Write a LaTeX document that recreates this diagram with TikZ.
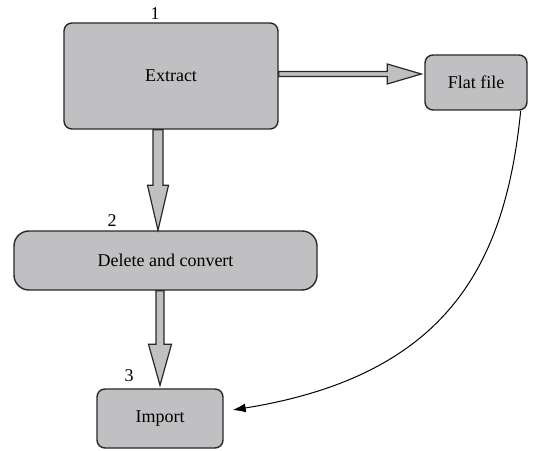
\documentclass[tikz,border=0pt]{standalone}
\usepackage{fontspec}
\setmainfont{Liberation Serif}
\usetikzlibrary{calc,arrows.meta}
\definecolor{boxgray}{RGB}{192,192,194}
\definecolor{edge}{RGB}{40,40,40}
\begin{document}
\begin{tikzpicture}[x=1pt,y=1pt,
  box/.style={draw=edge,line width=1.4pt,fill=boxgray,rounded corners=8pt,inner sep=0pt,
    font=\fontsize{18}{20}\selectfont},
  fat/.style={draw=edge,line width=1.2pt,fill=boxgray,line join=miter},
  num/.style={font=\fontsize{18}{20}\selectfont,inner sep=0pt},
  curvearrow/.style={draw=black,line width=1pt,-{Latex[length=13pt,width=9pt]}}]
\useasboundingbox (0,0) rectangle (534,450);
\node[box,minimum width=214pt,minimum height=106pt] (ext) at (171,374) {Extract};
\node[box,minimum width=102pt,minimum height=55pt] (flat) at (476,367.5) {Flat file};
\node[box,rounded corners=15pt,minimum width=303pt,minimum height=59pt] (del) at (165.5,189.5) {Delete and convert};
\node[box,minimum width=126pt,minimum height=59pt] (imp) at (160,31.5) {Import};
\node[num] (n1) at (155,436.5) {1};
\node[num] (n2) at (112,229) {2};
\node[num] (n3) at (129,74) {3};
% fat arrow Extract -> Delete and convert
\coordinate (s1) at ($(ext.south)+(-13pt,0)$);
\coordinate (t1) at (del.north);
\draw[fat] let \p1=(s1), \p2=(t1) in
  (\x1-5pt,\y1) -- (\x1-5pt,\y2+45pt) -- (\x1-10.5pt,\y2+45pt) -- (\x1,\y2)
  -- (\x1+10.5pt,\y2+45pt) -- (\x1+5pt,\y2+45pt) -- (\x1+5pt,\y1) -- cycle;
% fat arrow Delete and convert -> Import
\coordinate (s2) at ($(del.south)+(-5.5pt,0)$);
\coordinate (t2) at ($(imp.north)+(0,3pt)$);
\draw[fat] let \p1=(s2), \p2=(t2) in
  (\x1-4pt,\y1) -- (\x1-4pt,\y2+41pt) -- (\x1-11.5pt,\y2+41pt) -- (\x1,\y2)
  -- (\x1+11.5pt,\y2+41pt) -- (\x1+4pt,\y2+41pt) -- (\x1+4pt,\y1) -- cycle;
% fat arrow Extract -> Flat file
\coordinate (s3) at ($(ext.east)+(0,2pt)$);
\coordinate (t3) at ($(flat.west)+(-3pt,0)$);
\draw[fat] let \p1=(s3), \p2=(t3) in
  (\x1,\y1+2.5pt) -- (\x2-34pt,\y1+2.5pt) -- (\x2-34pt,\y1+10pt) -- (\x2,\y1)
  -- (\x2-34pt,\y1-10pt) -- (\x2-34pt,\y1-2.5pt) -- (\x1,\y1-2.5pt) -- cycle;
% curved connector Flat file -> Import
\coordinate (c0) at ($(flat.south east)+(-7pt,0)$);
\coordinate (c1) at ($(imp.east)+(9pt,8.5pt)$);
\draw[curvearrow] (c0) .. controls +(-15pt,-150pt) and +(218pt,35pt) .. (c1);
\end{tikzpicture}
\end{document}
